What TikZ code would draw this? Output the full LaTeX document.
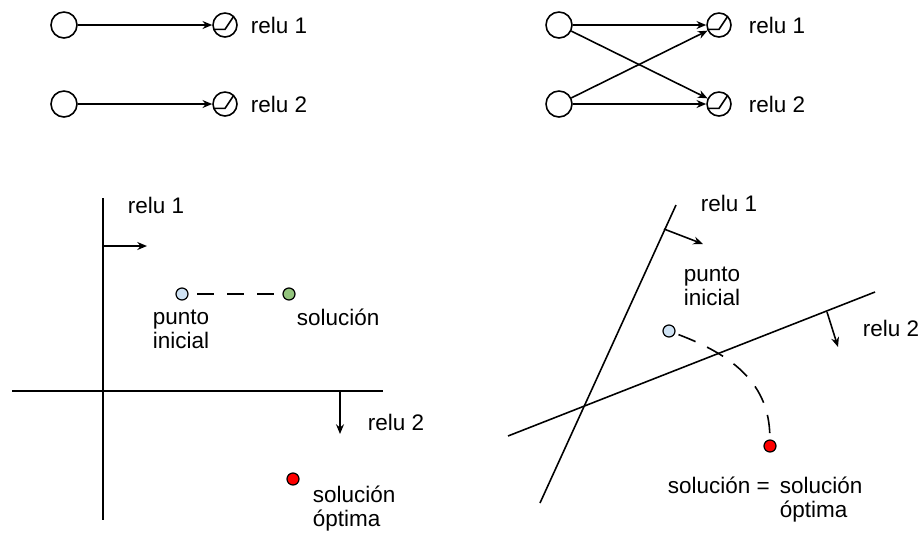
\documentclass[tikz,border=0pt]{standalone}
\usepackage{fontspec}
\setmainfont{Liberation Sans}
\usetikzlibrary{arrows.meta}

\definecolor{inicio}{HTML}{CFE2F3}
\definecolor{solverde}{HTML}{93C47D}
\definecolor{optrojo}{HTML}{FF0000}

\tikzset{
  neuron/.style={circle,draw,inner sep=0pt,minimum size=0.52cm},
  relu/.style={neuron,minimum size=0.48cm,path picture={
      \draw ([yshift=-2.5pt]path picture bounding box.west)
        -- ([yshift=-2.5pt]path picture bounding box.center)
        -- ([xshift=5pt,yshift=5pt]path picture bounding box.center);}},
  dot/.style={circle,draw,line width=0.7pt,inner sep=0pt,minimum size=0.24cm},
  % multi-line labels sit on the baseline of their last line
  lbl/.style={inner sep=0pt,anchor=base west,align=left,
    font=\fontsize{12.8}{13.6}\selectfont},
}

\begin{document}
\begin{tikzpicture}[x=0.02cm,y=-0.02cm,line width=0.9pt,
    >={Stealth[length=5.5pt,width=4.5pt]}]
  \useasboundingbox (0,0) rectangle (919,532);

  % separate units
  \draw
    (64,25) node[neuron] (a1){}
    (64,104) node[neuron] (a2){}
    (225,25) node[relu] (r1){}
    (225,104) node[relu] (r2){}
    (250,33) node[lbl] (t1){relu 1}
    (250,112) node[lbl] (t2){relu 2};
  \begin{scope}[->]
    \draw (a1) to (r1);
    \draw (a2) to (r2);
  \end{scope}

  % fully connected units
  \draw
    (559,25) node[neuron] (b1){}
    (559,104) node[neuron] (b2){}
    (719,25) node[relu] (s1){}
    (719,104) node[relu] (s2){}
    (748,33) node[lbl] (u1){relu 1}
    (748,112) node[lbl] (u2){relu 2};
  \begin{scope}[->]
    \draw (b1) to (s1);
    \draw (b1) to (s2);
    \draw (b2) to (s1);
    \draw (b2) to (s2);
  \end{scope}

  % axis-aligned half planes
  \coordinate (ytop) at (103,198);
  \coordinate (ybot) at (103,520);
  \coordinate (xlft) at (12,391);
  \coordinate (xrgt) at (383,391);
  \coordinate (n1a) at (103,246);
  \coordinate (n1b) at (147,246);
  \coordinate (n2a) at (340,391);
  \coordinate (n2b) at (340,434);
  \draw (ytop) -- (ybot);
  \draw (xlft) -- (xrgt);
  \draw[->] (n1a) -- (n1b);
  \draw[->] (n2a) -- (n2b);
  \draw
    (182,294) node[dot,fill=inicio] (p0){}
    (289,294) node[dot,fill=solverde] (p1){}
    (293,479) node[dot,fill=optrojo] (p2){}
    (127,213) node[lbl] (c1){relu 1}
    (367,430) node[lbl] (c2){relu 2}
    (152,348) node[lbl] (c3){punto\\inicial}
    (296,325) node[lbl] (c4){solución}
    (312,526) node[lbl] (c5){solución\\óptima};
  \draw[dash pattern=on 9.5pt off 7.5pt,shorten <=5pt,shorten >=5pt] (p0) -- (p1);

  % rotated half planes
  \coordinate (l1a) at (540,503);
  \coordinate (l1b) at (676,205);
  \coordinate (l2a) at (508,436);
  \coordinate (l2b) at (875,292);
  \coordinate (m1a) at (664,229);
  \coordinate (m1b) at (703,244);
  \coordinate (m2a) at (827,312);
  \coordinate (m2b) at (838,347);
  \draw (l1a) -- (l1b);
  \draw (l2a) -- (l2b);
  \draw[->] (m1a) -- (m1b);
  \draw[->] (m2a) -- (m2b);
  \draw
    (669,331) node[dot,fill=inicio] (q0){}
    (770,446) node[dot,fill=optrojo] (q1){}
    (700,211) node[lbl] (d1){relu 1}
    (862,336) node[lbl] (d2){relu 2}
    (683,305) node[lbl] (d3){punto\\inicial}
    (667,493) node[lbl] (d4){solución =}
    (779,517) node[lbl] (d5){solución\\óptima};
  \draw[dash pattern=on 10.5pt off 7.3pt,shorten <=2pt,shorten >=2pt]
    (q0) .. controls (735,356) and (769,385) .. (q1);
\end{tikzpicture}
\end{document}
